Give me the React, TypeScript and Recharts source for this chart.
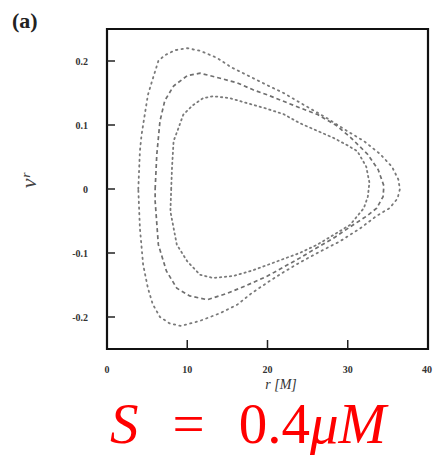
import React from "react";
import {
  ComposedChart,
  Line,
  XAxis,
  YAxis,
  ReferenceArea,
} from "recharts";

// closed orbits in the (r, v^r) plane, clockwise from the left edge
const outerR = [3.9, 4.1, 4.3, 4.7, 5.1, 5.6, 6.4, 7.2, 8.5, 10.0, 11.6, 13.7, 15.5, 17.6, 20, 22, 25, 27.5, 30, 32, 34, 35.5, 36.3, 36.5, 36.2, 35.2, 33.6, 31.5, 29, 26.5, 24, 22, 20, 18, 16.2, 14.1, 11.6, 9.2, 7.8, 6.6, 5.7, 5.1, 4.5, 4.1, 3.9];
const outerV = [0, 0.059, 0.084, 0.116, 0.147, 0.168, 0.2, 0.209, 0.217, 0.22, 0.216, 0.205, 0.19, 0.177, 0.162, 0.15, 0.128, 0.11, 0.09, 0.075, 0.055, 0.035, 0.015, 0, -0.015, -0.03, -0.042, -0.062, -0.082, -0.098, -0.115, -0.13, -0.146, -0.163, -0.181, -0.194, -0.206, -0.214, -0.21, -0.2, -0.18, -0.155, -0.118, -0.061, 0];

const middleR = [6.0, 6.2, 6.6, 7.2, 8.3, 10.0, 11.6, 14.1, 16.2, 18.2, 20, 22, 24, 26.3, 28.5, 30.4, 32.5, 33.8, 34.5, 34.4, 33.6, 32.4, 30.2, 28.2, 26, 24, 22, 20, 17.5, 15, 12.5, 10.3, 8.7, 7.4, 6.4, 6.0, 6.0];
const middleV = [0, 0.053, 0.106, 0.138, 0.161, 0.177, 0.181, 0.173, 0.166, 0.155, 0.147, 0.137, 0.127, 0.116, 0.1, 0.08, 0.054, 0.03, 0.005, -0.012, -0.03, -0.042, -0.06, -0.077, -0.093, -0.108, -0.122, -0.136, -0.15, -0.163, -0.173, -0.167, -0.155, -0.128, -0.087, -0.019, 0];

const innerR = [8.0, 8.1, 8.3, 8.9, 9.5, 10.7, 12.0, 13.2, 15.3, 17.5, 19.5, 22, 24, 26, 28.2, 30, 31.2, 32.3, 32.7, 32.5, 32.0, 30.3, 28.2, 26.2, 24, 21.2, 18.2, 15.7, 13.2, 11.6, 10.0, 8.7, 7.9, 8.0];
const innerV = [0, 0.033, 0.075, 0.095, 0.116, 0.131, 0.142, 0.145, 0.142, 0.134, 0.127, 0.117, 0.103, 0.092, 0.08, 0.068, 0.059, 0.035, 0.01, -0.012, -0.03, -0.056, -0.072, -0.087, -0.1, -0.113, -0.127, -0.136, -0.139, -0.134, -0.113, -0.087, -0.035, 0];

const xTicks = [0, 10, 20, 30, 40];
const yTicks = [-0.2, -0.1, 0, 0.1, 0.2];

const toPoints = (rs: number[], vs: number[]) => rs.map((r, i) => ({ r, v: vs[i] }));

const outer = toPoints(outerR, outerV);
const middle = toPoints(middleR, middleV);
const inner = toPoints(innerR, innerV);

const Y_MARGIN = 19;
const X_MARGIN = 16;
const serif = "'Liberation Serif', 'DejaVu Serif', serif";
const labelStyle = {
  fontFamily: serif,
  fontSize: 10,
  fontWeight: 700,
  fill: "#333",
};

// y tick: label on the left, short tick line pointing into the frame
const YTick = (props: any) => {
  const { x, y, payload } = props;
  const axisX = x + Y_MARGIN;
  return (
    <g>
      <line x1={axisX} x2={axisX + 8} y1={y} y2={y} stroke="#222" strokeWidth={1.5} />
      <text x={x} y={y} dy={3.5} textAnchor="end" style={labelStyle}>
        {String(payload.value)}
      </text>
    </g>
  );
};

const XTick = (props: any) => {
  const { x, y, payload } = props;
  const axisY = y - X_MARGIN;
  const inside = payload.value > 0 && payload.value < 40;
  return (
    <g>
      {inside && (
        <line x1={x} x2={x} y1={axisY} y2={axisY - 9} stroke="#222" strokeWidth={1.5} />
      )}
      <text x={x} y={y} dy={8} textAnchor="middle" style={labelStyle}>
        {payload.value}
      </text>
    </g>
  );
};

export default function App() {
  return (
    <div
      style={{
        position: "absolute",
        left: 0,
        top: 0,
        width: 435,
        height: 457,
        background: "#fff",
        overflow: "hidden",
      }}
    >
      <ComposedChart
        width={435}
        height={457}
        margin={{ top: 29, right: 7, left: 67, bottom: 78 }}
      >
        <XAxis
          type="number"
          dataKey="r"
          domain={[0, 40]}
          ticks={xTicks}
          allowDataOverflow
          axisLine={false}
          tickLine={false}
          tickSize={0}
          tickMargin={X_MARGIN}
          height={30}
          tick={<XTick />}
          label={{
            content: () => (
              <text
                x={281}
                y={389}
                textAnchor="middle"
                style={{ fontFamily: serif, fontSize: 14, fontStyle: "italic", fill: "#333" }}
              >
                r [M]
              </text>
            ),
          }}
        />
        <YAxis
          type="number"
          domain={[-0.25, 0.25]}
          ticks={yTicks}
          allowDataOverflow
          axisLine={false}
          tickLine={false}
          tickSize={0}
          tickMargin={Y_MARGIN}
          width={40}
          tick={<YTick />}
          label={{
            content: () => (
              <text
                transform="translate(36,181) rotate(-90)"
                textAnchor="middle"
                style={{ fontFamily: serif, fontSize: 22, fontStyle: "italic", fill: "#444" }}
              >
                vʳ
              </text>
            ),
          }}
        />

        <Line
          data={outer}
          dataKey="v"
          type="linear"
          stroke="#7a7a7a"
          strokeWidth={1.8}
          strokeDasharray="1.4 4.2"
          strokeLinecap="round"
          dot={false}
          activeDot={false}
          isAnimationActive={false}
        />
        <Line
          data={middle}
          dataKey="v"
          type="linear"
          stroke="#6f6f6f"
          strokeWidth={1.7}
          strokeDasharray="4 3"
          dot={false}
          activeDot={false}
          isAnimationActive={false}
        />
        <Line
          data={inner}
          dataKey="v"
          type="linear"
          stroke="#7a7a7a"
          strokeWidth={1.8}
          strokeDasharray="1.4 3.6"
          strokeLinecap="round"
          dot={false}
          activeDot={false}
          isAnimationActive={false}
        />

        <ReferenceArea
          x1={0}
          x2={40}
          y1={-0.25}
          y2={0.25}
          fill="none"
          stroke="#111"
          strokeWidth={2.2}
          ifOverflow="visible"
        />
      </ComposedChart>

      <svg
        width={435}
        height={457}
        style={{ position: "absolute", left: 0, top: 0, pointerEvents: "none" }}
      >
        <text
          x={12}
          y={28}
          style={{ fontFamily: serif, fontSize: 22, fontWeight: 700, fill: "#222" }}
        >
          (a)
        </text>
        <text
          x={110}
          y={443}
          fill="#ff0000"
          style={{ fontFamily: serif, fontSize: 57 }}
        >
          <tspan fontStyle="italic">S</tspan>
          <tspan dx={34}>=</tspan>
          <tspan dx={34}>0.4</tspan>
          <tspan fontStyle="italic">μM</tspan>
        </text>
      </svg>
    </div>
  );
}
